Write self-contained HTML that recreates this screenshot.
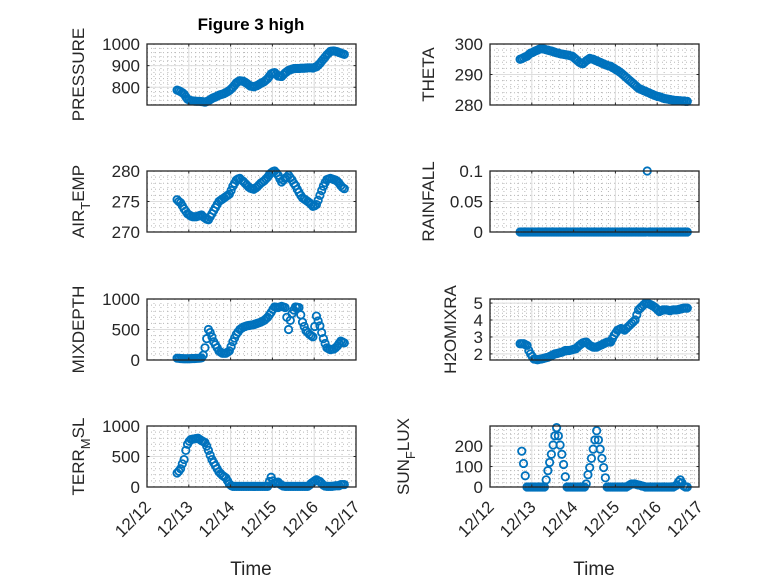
<!DOCTYPE html>
<html><head><meta charset="utf-8"><style>
html,body{margin:0;padding:0;background:#fff;}
svg{display:block;font-family:"Liberation Sans","DejaVu Sans",sans-serif;}
</style></head><body>
<svg id="fig" width="778" height="583" viewBox="0 0 778 583" xmlns="http://www.w3.org/2000/svg">
<rect width="778" height="583" fill="#fff"/>
<text x="251" y="30" text-anchor="middle" font-size="17" font-weight="bold" fill="#000">Figure 3 high</text>
<text x="251" y="575" text-anchor="middle" font-size="19" fill="#262626">Time</text>
<text x="594" y="575" text-anchor="middle" font-size="19" fill="#262626">Time</text>
</svg>
<script>
const dateLabels = ["12/12","12/13","12/14","12/15","12/16","12/17"];
const pressureVals = [787,784,780,775,768,756,745,741,738,737,736,735,735,735,734,733,731,734,738,743,748,752,755,759,763,766,768,771,775,780,785,792,800,810,820,826,830,829,828,823,818,812,806,804,802,805,808,813,818,822,826,833,840,851,862,866,868,860,852,851,850,858,866,872,878,881,884,886,887,887,887,888,888,888,889,890,890,890,889,892,895,902,910,920,930,940,950,958,966,967,968,966,964,961,958,955,952];
const thetaVals = [295,295.2,295.5,295.8,296,296.5,297,297.2,297.5,297.8,298,298.3,298.5,298.4,298.3,298.1,298,297.8,297.7,297.5,297.3,297.1,297,296.8,296.7,296.6,296.5,296.4,296.3,296.1,296,295.5,295,294.5,294,293.7,293.5,294,294.5,294.9,295.3,295.1,295,294.7,294.5,294.2,294,293.7,293.5,293.2,293,292.8,292.7,292.3,292,291.6,291.3,290.9,290.5,290,289.5,289,288.5,288,287.5,287,286.5,286,285.5,285.2,285,284.7,284.5,284.2,284,283.7,283.5,283.2,283,282.8,282.7,282.5,282.3,282.1,282,281.9,281.8,281.7,281.6,281.5,281.5,281.4,281.4,281.3,281.3,281.2,281.2];
const airTempVals = [275.3,275,274.8,274.3,273.8,273.4,273,272.8,272.6,272.5,272.5,272.5,272.6,272.7,272.8,272.5,272.3,272.1,272,272.5,273,273.5,274,274.5,275,275.2,275.4,275.6,275.8,276,276.2,276.8,277.5,278,278.5,278.7,278.8,278.5,278.3,278,277.7,277.4,277.2,277.1,277,277.2,277.4,277.7,278,278.2,278.4,278.7,279,279.4,279.7,279.9,280,279.7,279.3,278.7,278.2,278.5,278.8,279,279.3,278.9,278.5,278,277.6,277,276.5,276,275.6,275.4,275.2,275,274.8,274.5,274.2,274.3,274.5,275.2,276,276.8,277.5,278.1,278.6,278.7,278.8,278.7,278.6,278.5,278.3,278,277.6,277.3,277.1];
const rainfallVals = [0,0,0,0,0,0,0,0,0,0,0,0,0,0,0,0,0,0,0,0,0,0,0,0,0,0,0,0,0,0,0,0,0,0,0,0,0,0,0,0,0,0,0,0,0,0,0,0,0,0,0,0,0,0,0,0,0,0,0,0,0,0,0,0,0,0,0,0,0,0,0,0,0,0.1,0,0,0,0,0,0,0,0,0,0,0,0,0,0,0,0,0,0,0,0,0,0,0];
const mixDepthVals = [30,28,25,22,20,20,20,21,22,24,25,27,28,30,35,80,200,350,500,450,380,300,250,200,150,130,110,110,110,130,150,220,300,360,420,460,500,520,540,550,560,565,570,575,580,590,600,610,620,635,650,675,700,740,780,830,870,865,860,870,880,870,860,700,500,650,760,820,870,865,860,740,620,550,480,450,420,400,380,550,720,640,560,450,350,270,200,185,170,175,180,200,230,270,310,295,280];
const h2oVals = [2.6,2.6,2.6,2.55,2.5,2.2,2.0,1.85,1.7,1.68,1.65,1.68,1.7,1.72,1.75,1.78,1.8,1.85,1.9,1.95,2.0,2.02,2.05,2.08,2.1,2.15,2.2,2.2,2.2,2.22,2.25,2.28,2.3,2.4,2.5,2.58,2.65,2.68,2.7,2.6,2.5,2.45,2.4,2.4,2.4,2.45,2.5,2.55,2.6,2.65,2.7,2.7,2.7,2.9,3.1,3.25,3.4,3.45,3.5,3.45,3.4,3.5,3.6,3.7,3.8,3.9,4.0,4.3,4.6,4.7,4.8,4.9,5.0,4.98,4.95,4.9,4.85,4.78,4.7,4.6,4.5,4.55,4.6,4.6,4.6,4.58,4.55,4.58,4.6,4.6,4.6,4.62,4.65,4.68,4.7,4.7,4.7];
const terrVals = [230,260,300,380,450,600,700,750,780,785,790,795,800,780,760,745,730,670,600,520,450,400,350,300,250,220,190,170,150,100,50,25,10,10,10,10,10,10,10,10,10,10,10,10,10,10,10,10,10,10,10,10,10,90,160,100,60,70,80,50,30,15,10,10,10,10,10,10,10,10,10,10,10,10,10,10,30,60,80,100,120,100,90,60,30,15,10,10,10,10,15,20,20,20,40,40,40];
const sunFluxVals = [175,115,55,0,0,0,0,0,0,0,0,0,0,0,35,80,120,160,205,250,290,250,205,160,110,50,0,0,0,0,0,0,0,0,0,0,0,15,60,95,140,185,230,275,230,185,140,95,45,0,0,0,0,0,0,0,0,0,0,0,0,5,10,15,15,15,12,10,8,5,3,0,0,0,0,0,0,0,0,0,0,0,0,0,0,0,0,0,5,10,25,35,20,5,0,0];
const t0Main = 0.72, stepMain = 1/24;
const t0Sun = 0.76, stepSun = 1/24;

const NS = "http://www.w3.org/2000/svg";
const svg = document.getElementById('fig');
function mk(tag, attrs, parent){const e=document.createElementNS(NS,tag);for(const k in attrs)e.setAttribute(k,attrs[k]);(parent||svg).appendChild(e);return e;}

const panels = [
 {name:'pressure',x:147,y:44,label:['PRESSURE'],lx:84,vals:pressureVals,t0:t0Main,st:stepMain,ymin:718,ymax:1000,ticks:[800,900,1000],minor:20,xt:false},
 {name:'theta',x:490,y:44,label:['THETA'],lx:434,vals:thetaVals,t0:t0Main,st:stepMain,ymin:280,ymax:300,ticks:[280,290,300],minor:2,xt:false},
 {name:'air-temp',x:147,y:171,label:['AIR','T','EMP'],lx:84,vals:airTempVals,t0:t0Main,st:stepMain,ymin:270,ymax:280,ticks:[270,275,280],minor:1,xt:false},
 {name:'rainfall',x:490,y:171,label:['RAINFALL'],lx:434,vals:rainfallVals,t0:t0Main,st:stepMain,ymin:0,ymax:0.1,ticks:[0,0.05,0.1],minor:0.01,xt:false},
 {name:'mixdepth',x:147,y:299,label:['MIXDEPTH'],lx:84,vals:mixDepthVals,t0:t0Main,st:stepMain,ymin:0,ymax:1000,ticks:[0,500,1000],minor:100,xt:false},
 {name:'h2omixra',x:490,y:299,label:['H2OMIXRA'],lx:456,vals:h2oVals,t0:t0Main,st:stepMain,ymin:1.64,ymax:5.24,ticks:[2,3,4,5],minor:0.2,xt:false},
 {name:'terr-msl',x:147,y:426,label:['TERR','M','SL'],lx:84,vals:terrVals,t0:t0Main,st:stepMain,ymin:0,ymax:1000,ticks:[0,500,1000],minor:100,xt:true},
 {name:'sun-flux',x:490,y:426,label:['SUN','F','LUX'],lx:409,vals:sunFluxVals,t0:t0Sun,st:stepSun,ymin:0,ymax:298,ticks:[0,100,200],minor:20,xt:true}
];
const W=209,H=61;
panels.forEach(p=>{
  const g=mk('g',{});
  
  
  const X=d=>p.x+d/5*W;
  const Y=v=>p.y+H-(v-p.ymin)/(p.ymax-p.ymin)*H;
  for(let d=0;d<=5.0001;d+=1/6){const x=X(d);mk('line',{x1:x,x2:x,y1:p.y,y2:p.y+H,stroke:'#b8b8b8','stroke-width':1,'stroke-dasharray':'1 3'},g);}
  const mstart=Math.ceil(p.ymin/p.minor)*p.minor;
  for(let v=mstart;v<=p.ymax+1e-9;v+=p.minor){const y=Y(v);mk('line',{x1:p.x,x2:p.x+W,y1:y,y2:y,stroke:'#b8b8b8','stroke-width':1,'stroke-dasharray':'1 3'},g);}
  for(let d=1;d<5;d++){const x=X(d);mk('line',{x1:x,x2:x,y1:p.y,y2:p.y+H,stroke:'#dedede','stroke-width':1},g);}
  p.ticks.forEach(v=>{const y=Y(v);mk('line',{x1:p.x,x2:p.x+W,y1:y,y2:y,stroke:'#dedede','stroke-width':1},g);});
  const pts=mk('g',{},g);
  
  
  p.vals.forEach((v,i)=>{
    const c=mk('circle',{cx:X(p.t0+i*p.st),cy:Y(v),r:3.7,fill:'none',stroke:'#0072BD','stroke-width':1.8},pts);
    
    
  });
  mk('rect',{x:p.x,y:p.y,width:W,height:H,fill:'none',stroke:'#262626','stroke-width':1.3},g);
  for(let d=0;d<=5;d++){const x=X(d);mk('line',{x1:x,x2:x,y1:p.y+H,y2:p.y+H-2.5,stroke:'#262626'},g);mk('line',{x1:x,x2:x,y1:p.y,y2:p.y+2.5,stroke:'#262626'},g);}
  p.ticks.forEach(v=>{const y=Y(v);mk('line',{x1:p.x,x2:p.x+2.5,y1:y,y2:y,stroke:'#262626'},g);mk('line',{x1:p.x+W,x2:p.x+W-2.5,y1:y,y2:y,stroke:'#262626'},g);
    const t=mk('text',{x:p.x-7,y:y+6,'text-anchor':'end','font-size':17,fill:'#262626'},g);
    
    
    t.textContent=String(v);
  });
  if(p.xt){
    dateLabels.forEach((s,d)=>{const x=X(d),y=p.y+H+10;
      const t=mk('text',{x:x+5,y:y+11,'text-anchor':'end','font-size':17,fill:'#262626',transform:`rotate(-45 ${x+5} ${y+11})`},g);
      
      
      t.textContent=s;
    });
  }
  const cy=p.y+H/2;
  const lt=mk('text',{x:p.lx,y:cy,'text-anchor':'middle','font-size':17,fill:'#262626',transform:`rotate(-90 ${p.lx} ${cy})`},g);
  
  
  if(p.label.length===1){lt.textContent=p.label[0];}
  else{
    const a=mk('tspan',{},lt);a.textContent=p.label[0];
    const b=mk('tspan',{dy:6,'font-size':13},lt);b.textContent=p.label[1];
    const c=mk('tspan',{dy:-6},lt);c.textContent=p.label[2];
  }
});
</script>
</body></html>
